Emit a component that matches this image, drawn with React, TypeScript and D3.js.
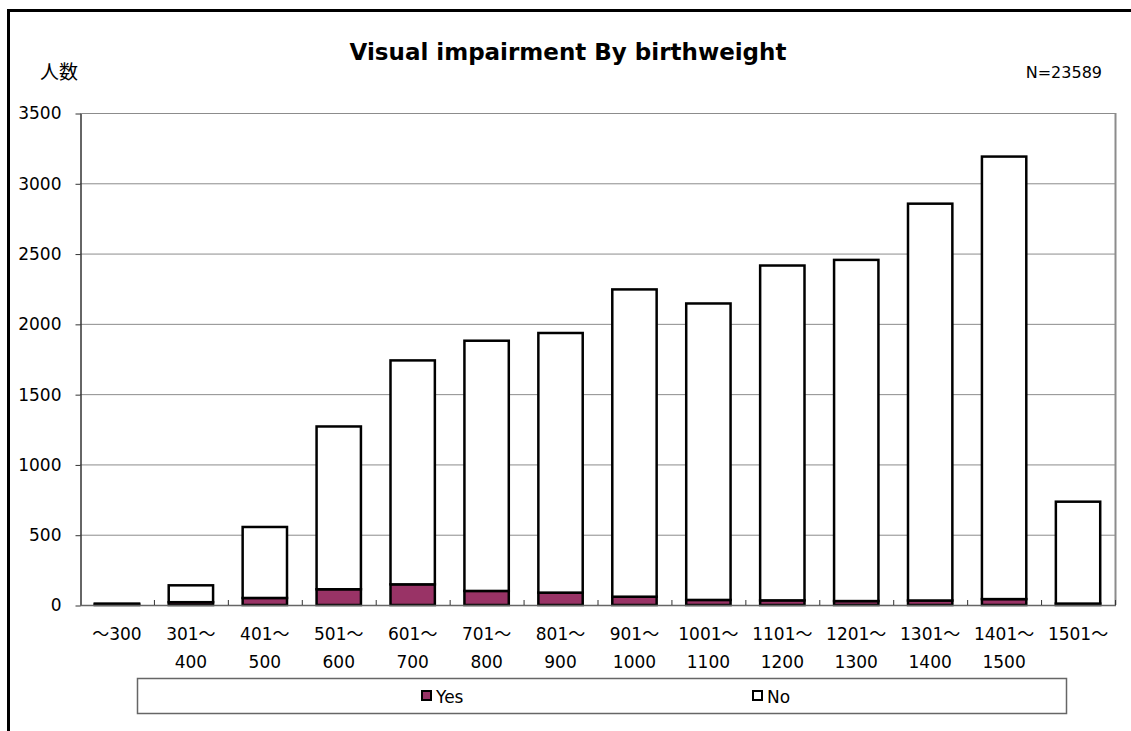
import React, { useEffect, useRef } from "react";
import * as d3 from "d3";

const categories = ["～300", "301～\n400", "401～\n500", "501～\n600", "601～\n700", "701～\n800", "801～\n900", "901～\n1000", "1001～\n1100", "1101～\n1200", "1201～\n1300", "1301～\n1400", "1401～\n1500", "1501～"];
const yesValues = [3, 20, 50, 112, 147, 100, 88, 59, 36, 33, 28, 32, 42, 10];
const totalValues = [10, 140, 555, 1270, 1740, 1880, 1935, 2245, 2145, 2415, 2455, 2855, 3190, 735];
const noValues = totalValues.map((t, i) => t - yesValues[i]);
const yTicks = [0, 500, 1000, 1500, 2000, 2500, 3000, 3500];
const seriesNames = ["Yes", "No"];
const seriesColors = ["#993366", "#ffffff"];

const W = 1131;
const H = 731;
const FONT = "'DejaVu Sans', 'Noto Sans CJK JP', sans-serif";

export default function App() {
  const ref = useRef<SVGSVGElement>(null);

  useEffect(() => {
    const svg = d3.select(ref.current);
    svg.selectAll("*").remove();

    const left = 80, right = 1115, top = 113, bottom = 605;
    const x = d3.scaleBand<number>().domain(d3.range(categories.length)).range([left, right]).paddingInner(0.4).paddingOuter(0.2);
    const xb = d3.scaleBand<number>().domain(d3.range(categories.length)).range([left, right]);
    const y = d3.scaleLinear().domain([0, 3500]).range([bottom, top]);

    // outer border
    svg.append("rect").attr("x", 8.5).attr("y", 10.5).attr("width", W + 20).attr("height", H + 20)
      .attr("fill", "white").attr("stroke", "black").attr("stroke-width", 3);

    // title
    svg.append("text").attr("x", 568).attr("y", 60).attr("text-anchor", "middle")
      .attr("font-family", FONT).attr("font-weight", "bold").attr("font-size", 23).text("Visual impairment By birthweight");
    svg.append("text").attr("x", 40).attr("y", 79).attr("font-family", "'Noto Sans CJK JP', sans-serif").attr("font-size", 19).text("人数");
    svg.append("text").attr("x", 1102).attr("y", 78).attr("text-anchor", "end").attr("font-family", FONT).attr("font-size", 16).text("N=23589");

    // gridlines
    svg.append("g").selectAll("line").data(yTicks.filter(t => t > 0)).join("line")
      .attr("x1", left).attr("x2", right).attr("y1", d => y(d) + 0.5).attr("y2", d => y(d) + 0.5)
      .attr("stroke", "#8c8c8c").attr("stroke-width", 1);
    svg.append("line").attr("x1", right + 0.5).attr("x2", right + 0.5).attr("y1", top).attr("y2", bottom).attr("stroke", "#8c8c8c").attr("stroke-width", 2);

    // y axis
    const yAxis = svg.append("g").attr("transform", `translate(${left + 0.5},0.5)`)
      .call(d3.axisLeft(y).tickValues(yTicks).tickSize(5).tickSizeOuter(0).tickPadding(14).tickFormat(d3.format("d")));
    yAxis.select(".domain").attr("stroke", "#333").attr("stroke-width", 1.5);
    yAxis.selectAll(".tick line").attr("stroke", "#333");
    yAxis.selectAll("text").attr("font-family", FONT).attr("font-size", 17).attr("fill", "black");

    // stacks
    const data = categories.map((c, i) => ({ i, Yes: yesValues[i], No: noValues[i] }));
    const stack = d3.stack<any>().keys(seriesNames)(data);
    svg.append("g").selectAll("g").data(stack).join("g")
      .attr("fill", (_d, k) => seriesColors[k])
      .selectAll("rect").data(d => d).join("rect")
      .attr("x", d => x(d.data.i)!)
      .attr("width", x.bandwidth())
      .attr("y", d => y(d[1]))
      .attr("height", d => Math.max(0, y(d[0]) - y(d[1])))
      .attr("stroke", "black").attr("stroke-width", 2.5);

    // x axis
    svg.append("line").attr("x1", left).attr("x2", right + 1).attr("y1", bottom + 0.5).attr("y2", bottom + 0.5).attr("stroke", "#666").attr("stroke-width", 1.5);
    svg.append("g").selectAll("line").data(d3.range(1, categories.length + 1)).join("line")
      .attr("x1", i => (i < categories.length ? xb(i)! : right) + 0.5).attr("x2", i => (i < categories.length ? xb(i)! : right) + 0.5)
      .attr("y1", bottom).attr("y2", bottom - 5).attr("stroke", "#333");

    const lab = svg.append("g").selectAll("text").data(categories).join("text")
      .attr("font-family", FONT).attr("font-size", 17).attr("text-anchor", "middle");
    lab.each(function (d, i) {
      const lines = d.split("\n");
      const cx = xb(i)! + xb.bandwidth() / 2;
      lines.forEach((ln, j) => {
        d3.select(this).append("tspan").attr("x", cx).attr("y", 640 + j * 28).text(ln);
      });
    });

    // legend
    svg.append("rect").attr("x", 137.5).attr("y", 678.5).attr("width", 929).attr("height", 35)
      .attr("fill", "white").attr("stroke", "#666").attr("stroke-width", 1.5);
    const legX = [422, 753];
    seriesNames.forEach((s, k) => {
      svg.append("rect").attr("x", legX[k]).attr("y", 691).attr("width", 9).attr("height", 9)
        .attr("fill", seriesColors[k]).attr("stroke", "black").attr("stroke-width", 2);
      svg.append("text").attr("x", legX[k] + 14).attr("y", 703).attr("font-family", FONT).attr("font-size", 17).text(s);
    });
  }, []);

  return (
    <div style={{ position: "fixed", left: 0, top: 0 }}>
      <svg ref={ref} width={W} height={H} style={{ display: "block", background: "white" }} />
    </div>
  );
}
